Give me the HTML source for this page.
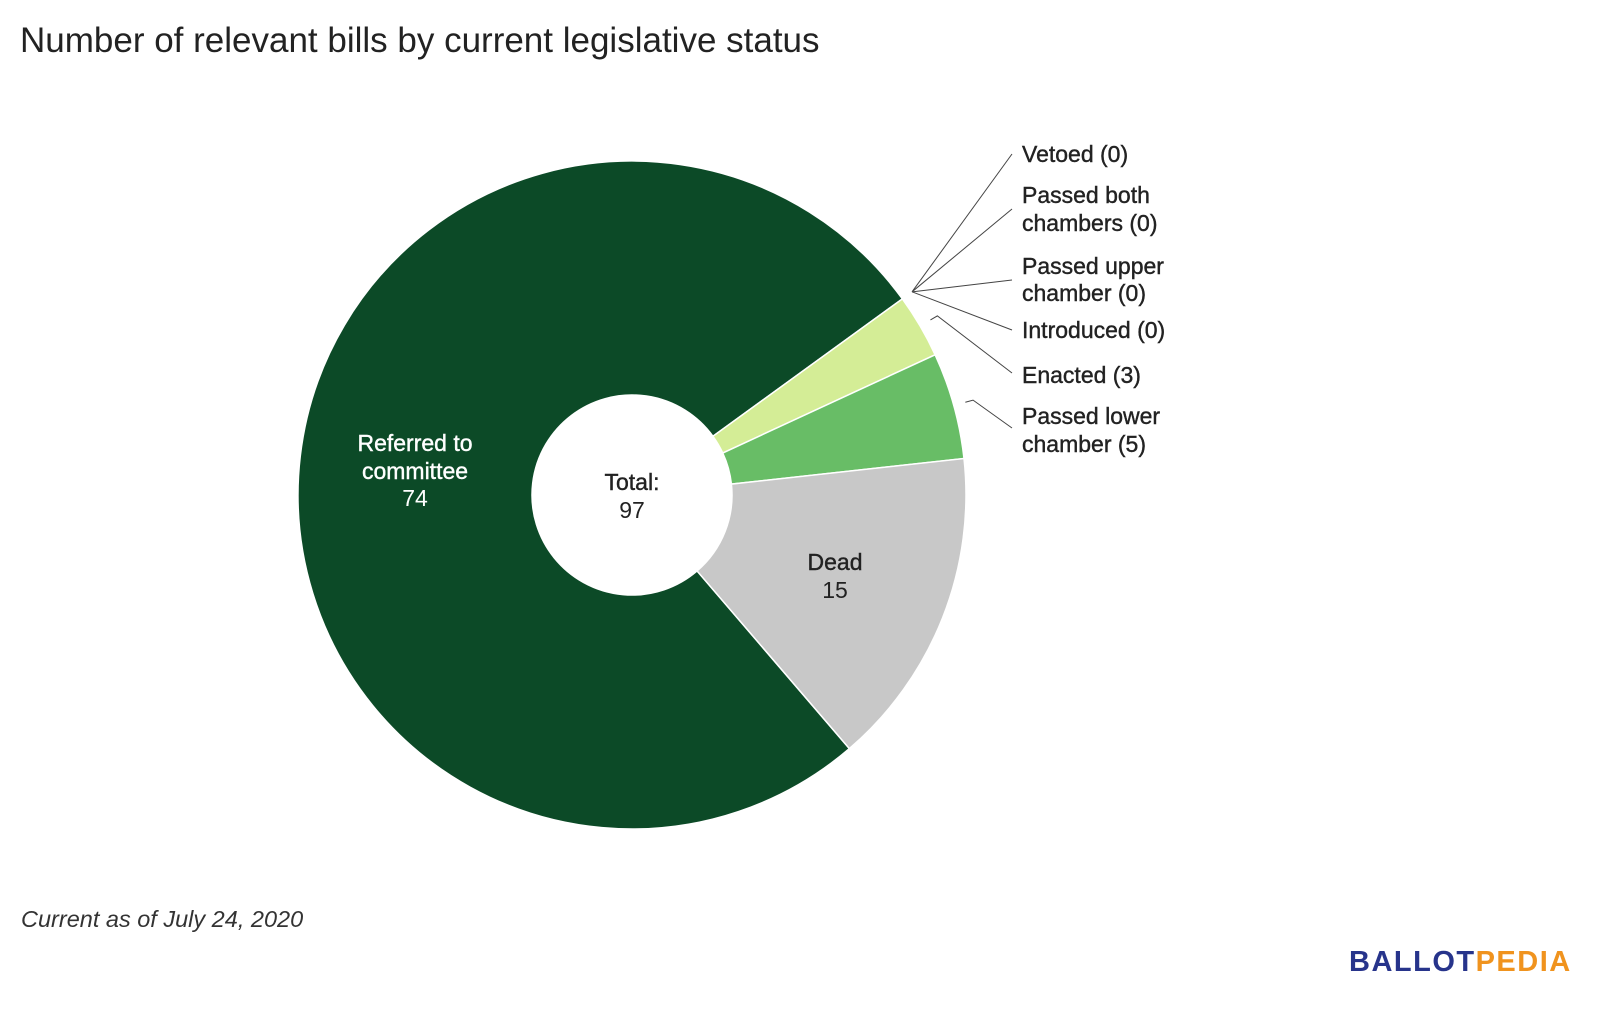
<!DOCTYPE html>
<html><head><meta charset="utf-8"><style>
body{margin:0;background:#fff;width:1600px;height:1015px;overflow:hidden;font-family:"Liberation Sans",sans-serif}
svg{display:block}
</style></head><body>
<svg id="chart" width="1600" height="1015" viewBox="0 0 1600 1015">
<text x="20" y="52" font-size="35" fill="#222">Number of relevant bills by current legislative status</text>
<g id="slices"></g>
<g id="labels"></g>
<text x="21" y="927" font-size="23.5" font-style="italic" fill="#333">Current as of July 24, 2020</text>
<text x="1349" y="971" font-size="29" font-weight="bold" letter-spacing="1.5"><tspan fill="#27348b">BALLOT</tspan><tspan fill="#f0931e">PEDIA</tspan></text>
</svg>
<script>
const categories=["Referred to committee","Vetoed","Passed both chambers","Passed upper chamber","Introduced","Enacted","Passed lower chamber","Dead"];
const values=[74,0,0,0,0,3,5,15];
const colors=["#0c4a27","#0c4a27","#0c4a27","#0c4a27","#0c4a27","#d4ed96","#68bd66","#c8c8c8"];
const cx=632,cy=495,R=334,r=100,startDeg=-220.6;
const NS="http://www.w3.org/2000/svg";
const total=values.reduce((a,b)=>a+b,0);
function pt(deg,rad){const a=(deg-90)*Math.PI/180;return [cx+rad*Math.cos(a),cy+rad*Math.sin(a)];}
const sg=document.getElementById('slices');
let ang=startDeg;const mids=[];
values.forEach((v,i)=>{
 const sweep=v/total*360;const a0=ang,a1=ang+sweep;mids.push(a0+sweep/2);ang=a1;
 if(v<=0)return;
 const [x0,y0]=pt(a0,R),[x1,y1]=pt(a1,R),[x2,y2]=pt(a1,r),[x3,y3]=pt(a0,r);
 const large=sweep>180?1:0;
 const p=document.createElementNS(NS,'path');
 p.setAttribute('d',`M${x0},${y0}A${R},${R} 0 ${large} 1 ${x1},${y1}L${x2},${y2}A${r},${r} 0 ${large} 0 ${x3},${y3}Z`);
 p.setAttribute('fill',colors[i]);p.setAttribute('stroke','#fff');p.setAttribute('stroke-width','1.5');
 
 
 sg.appendChild(p);
});
const lg=document.getElementById('labels');
function txt(x,y,s,opt){const t=document.createElementNS(NS,'text');t.setAttribute('x',x);t.setAttribute('y',y);t.setAttribute('font-size','23');t.setAttribute('fill',opt.fill||'#222');if(opt.anchor)t.setAttribute('text-anchor',opt.anchor);if(opt.bold)t.setAttribute('font-weight','bold');if(opt.stroke){t.setAttribute('stroke',opt.fill||'#222');t.setAttribute('stroke-width','0.4');}t.textContent=s;


lg.appendChild(t);}
txt(415,451,"Referred to",{fill:'#fff',anchor:'middle',stroke:1,name:'label-referred'});
txt(415,479,"committee",{fill:'#fff',anchor:'middle',stroke:1,name:'label-referred'});
txt(415,506,String(values[0]),{fill:'#fff',anchor:'middle',name:'value-referred'});
txt(835,570,"Dead",{anchor:'middle',stroke:1,name:'label-dead'});
txt(835,598,String(values[7]),{anchor:'middle',name:'value-dead'});
txt(632,490,"Total:",{anchor:'middle',stroke:1,name:'total-label'});
txt(632,518,String(total),{anchor:'middle',name:'total-value'});
const outY=[[154],[195,223],[266,293],[330],[375],[416,444]];
const lineY=[154,209,280,330,373,428];
const names=[["Vetoed ("+values[1]+")"],["Passed both","chambers ("+values[2]+")"],["Passed upper","chamber ("+values[3]+")"],["Introduced ("+values[4]+")"],["Enacted ("+values[5]+")"],["Passed lower","chamber ("+values[6]+")"]];
for(let k=0;k<6;k++){
 const i=k+1;const m=mids[i];
 const [ax,ay]=pt(m,R+12);const [bx,by]=pt(m,R+20);
 const l=document.createElementNS(NS,'polyline');
 const pts=values[i]>0?`${ax},${ay} ${bx},${by} 1012,${lineY[k]}`:`${ax},${ay} 1012,${lineY[k]}`;
 l.setAttribute('points',pts);l.setAttribute('fill','none');l.setAttribute('stroke','#444');l.setAttribute('stroke-width','1');
 
 
 lg.appendChild(l);
 names[k].forEach((s,j)=>txt(1022,outY[k][j]+8,s,{stroke:1,name:'outside-label'}));
}
</script>
</body></html>
